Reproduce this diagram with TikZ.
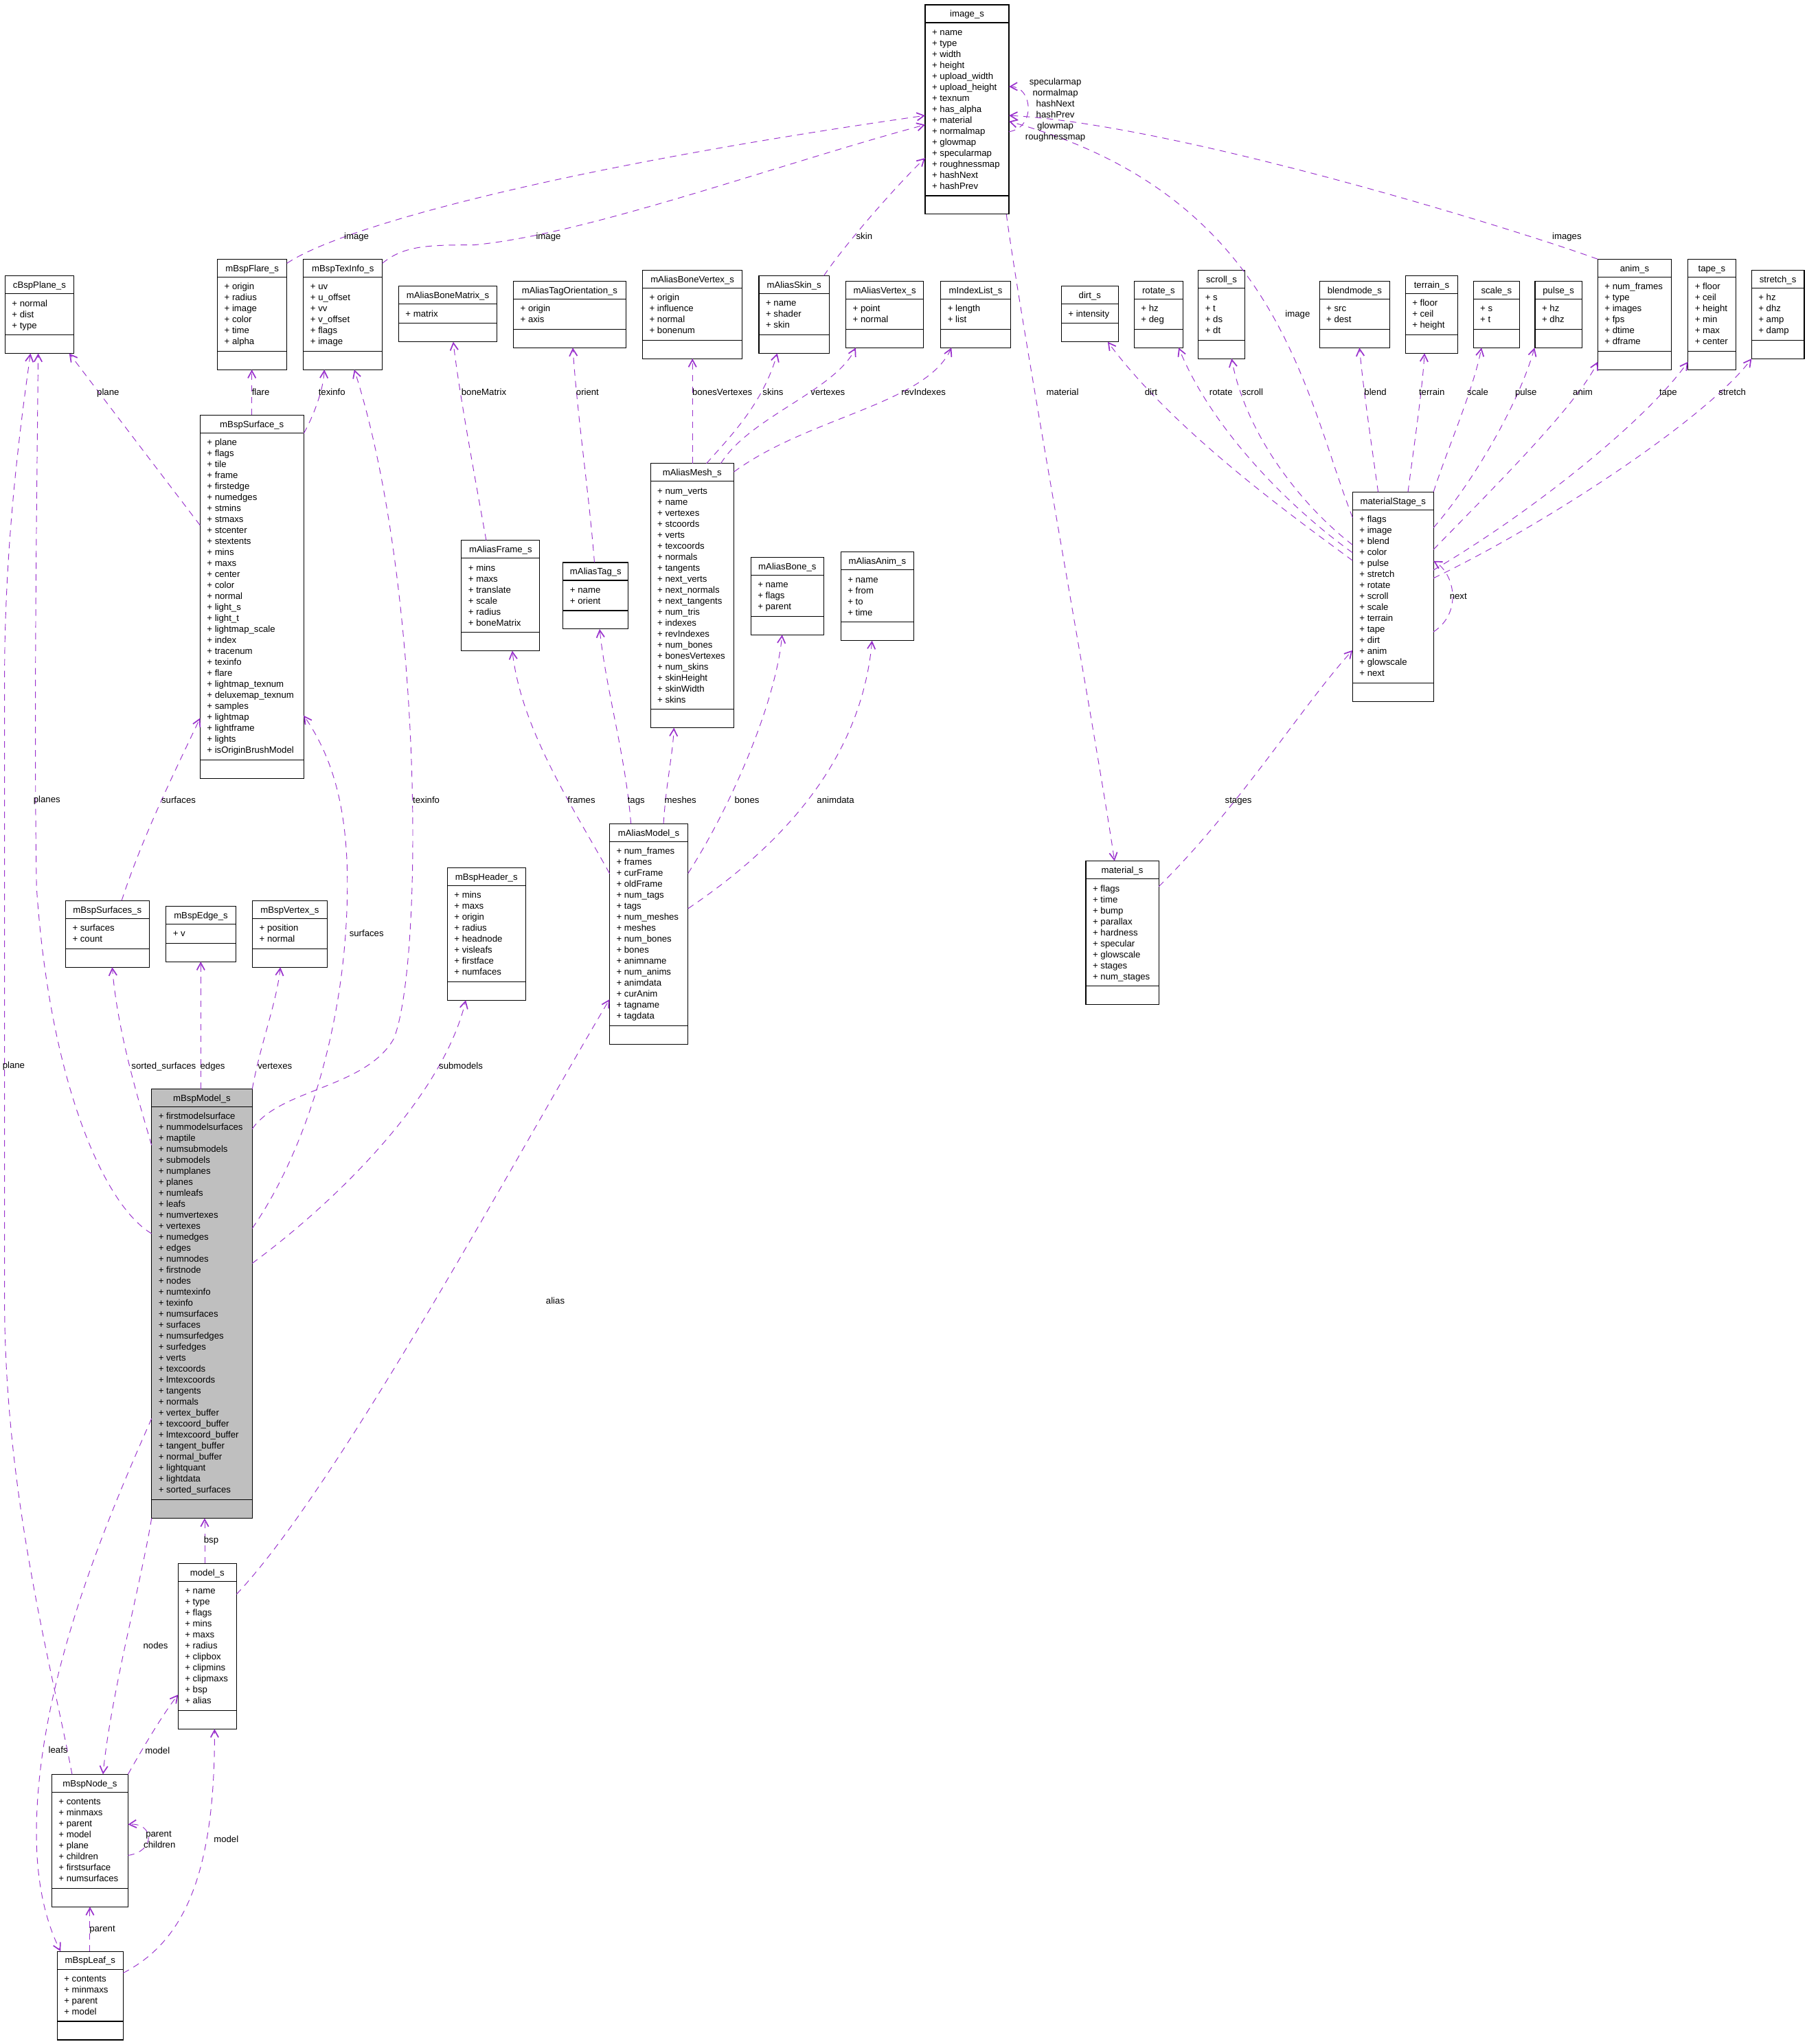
\documentclass[tikz,border=0pt]{standalone}
\usepackage{fontspec}
\setmainfont{Liberation Sans}
\usetikzlibrary{arrows.meta}
\definecolor{edgecol}{HTML}{9A32CD}
\definecolor{modelfill}{HTML}{BFBFBF}
\newcommand\cfont{\fontsize{6.95pt}{8.43pt}\selectfont}
\tikzset{
  classbox/.style={draw=black, line width=0.6pt, inner sep=0pt, outer sep=0pt, fill=white},
  ctext/.style={font=\cfont, inner sep=0pt, outer sep=0pt},
  lbl/.style={font=\cfont, inner sep=0pt, anchor=base, yshift=-2.4pt},
  assoc/.style={draw=edgecol, line width=0.5pt, dash pattern=on 5pt off 4pt,
    -{Straight Barb[length=5.5pt,width=6pt,line width=0.9pt]}}
}
% #1 extra style, #2 name, #3 left, #4 top, #5 width, #6 number of attributes, #7 title, #8 attributes
\newcommand\umlclass[8][]{%
  \node[classbox,#1,minimum width=#5pt,minimum height={(8.43*#6+34.2)*1pt},anchor=north west] (#2) at (#3,#4) {};
  \draw[line width=0.6pt] ([yshift=-13.7pt]#2.north west) -- ([yshift=-13.7pt]#2.north east);
  \draw[line width=0.6pt] ([yshift=14.2pt]#2.south west) -- ([yshift=14.2pt]#2.south east);
  \node[ctext,anchor=base] (#2-t) at ([yshift=-9.4pt]#2.north) {#7};
  \foreach \a [count=\i] in {#8} {%
    \pgfmathsetmacro\yy{-23.4-8.43*(\i-1)}%
    \node[ctext,anchor=base west] (#2-\i) at ([xshift=5.3pt,yshift=\yy pt]#2.north west) {+ \a};
  }%
}
\begin{document}
\begin{tikzpicture}[x=1pt,y=-1pt]
\useasboundingbox[fill=white] (0,0) rectangle (1386,1568);

% ---------- classes ----------
\umlclass{imgs}{709.7}{3.7}{64.3}{15}{image\_s}{name,type,width,height,upload\_width,upload\_height,texnum,has\_alpha,material,normalmap,glowmap,specularmap,roughnessmap,hashNext,hashPrev}
\umlclass{cbsp}{3.9}{211.6}{52.7}{3}{cBspPlane\_s}{normal,dist,type}
\umlclass{flare}{166.8}{198.8}{53.3}{6}{mBspFlare\_s}{origin,radius,image,color,time,alpha}
\umlclass{texi}{232.8}{198.8}{60.5}{6}{mBspTexInfo\_s}{uv,u\_offset,vv,v\_offset,flags,image}
\umlclass{abm}{305.8}{219.6}{75.5}{1}{mAliasBoneMatrix\_s}{matrix}
\umlclass{ato}{393.9}{215.7}{86.2}{2}{mAliasTagOrientation\_s}{origin,axis}
\umlclass{abv}{492.9}{207.2}{76.5}{4}{mAliasBoneVertex\_s}{origin,influence,normal,bonenum}
\umlclass{askin}{582.2}{211.5}{53.9}{3}{mAliasSkin\_s}{name,shader,skin}
\umlclass{avert}{648.9}{215.7}{59.6}{2}{mAliasVertex\_s}{point,normal}
\umlclass{ilist}{721.7}{215.7}{53.5}{2}{mIndexList\_s}{length,list}
\umlclass{dirt}{814.2}{219.6}{43.7}{1}{dirt\_s}{intensity}
\umlclass{rot}{870.1}{215.7}{37.4}{2}{rotate\_s}{hz,deg}
\umlclass{scroll}{919.3}{207.2}{35.5}{4}{scroll\_s}{s,t,ds,dt}
\umlclass{blend}{1012.2}{215.7}{54}{2}{blendmode\_s}{src,dest}
\umlclass{terr}{1078.1}{211.5}{40.3}{3}{terrain\_s}{floor,ceil,height}
\umlclass{scale}{1130.2}{215.7}{35.6}{2}{scale\_s}{s,t}
\umlclass{pulse}{1177.6}{215.7}{35.9}{2}{pulse\_s}{hz,dhz}
\umlclass{anim}{1225.7}{198.8}{56.6}{6}{anim\_s}{num\_frames,type,images,fps,dtime,dframe}
\umlclass{tape}{1294.9}{198.8}{36.6}{6}{tape\_s}{floor,ceil,height,min,max,center}
\umlclass{stretch}{1343.7}{207.2}{40.4}{4}{stretch\_s}{hz,dhz,amp,damp}
\umlclass{surf}{153.5}{318.4}{79.5}{29}{mBspSurface\_s}{plane,flags,tile,frame,firstedge,numedges,stmins,stmaxs,stcenter,stextents,mins,maxs,center,color,normal,light\_s,light\_t,lightmap\_scale,index,tracenum,texinfo,flare,lightmap\_texnum,deluxemap\_texnum,samples,lightmap,lightframe,lights,isOriginBrushModel}
\umlclass{mesh}{499}{355.5}{64}{20}{mAliasMesh\_s}{num\_verts,name,vertexes,stcoords,verts,texcoords,normals,tangents,next\_verts,next\_normals,next\_tangents,num\_tris,indexes,revIndexes,num\_bones,bonesVertexes,num\_skins,skinHeight,skinWidth,skins}
\umlclass{frame}{354}{414.5}{60}{6}{mAliasFrame\_s}{mins,maxs,translate,scale,radius,boneMatrix}
\umlclass{atag}{432}{431.5}{50}{2}{mAliasTag\_s}{name,orient}
\umlclass{bone}{576}{427.5}{56}{3}{mAliasBone\_s}{name,flags,parent}
\umlclass{aanim}{645}{423.5}{56}{4}{mAliasAnim\_s}{name,from,to,time}
\umlclass{mstage}{1037.6}{377.4}{62.1}{15}{materialStage\_s}{flags,image,blend,color,pulse,stretch,rotate,scroll,scale,terrain,tape,dirt,anim,glowscale,next}
\umlclass{amodel}{467.6}{631.9}{60.2}{16}{mAliasModel\_s}{num\_frames,frames,curFrame,oldFrame,num\_tags,tags,num\_meshes,meshes,num\_bones,bones,animname,num\_anims,animdata,curAnim,tagname,tagdata}
\umlclass{mat}{833}{660.5}{56}{9}{material\_s}{flags,time,bump,parallax,hardness,specular,glowscale,stages,num\_stages}
\umlclass{surfs}{50.3}{690.9}{64.1}{2}{mBspSurfaces\_s}{surfaces,count}
\umlclass{bedge}{127.4}{695.1}{53.4}{1}{mBspEdge\_s}{v}
\umlclass{bvert}{193.7}{690.9}{57.2}{2}{mBspVertex\_s}{position,normal}
\umlclass{bhead}{343.2}{665.6}{59.9}{8}{mBspHeader\_s}{mins,maxs,origin,radius,headnode,visleafs,firstface,numfaces}
\umlclass[fill=modelfill]{bmodel}{116.3}{835.4}{77.2}{35}{mBspModel\_s}{firstmodelsurface,nummodelsurfaces,maptile,numsubmodels,submodels,numplanes,planes,numleafs,leafs,numvertexes,vertexes,numedges,edges,numnodes,firstnode,nodes,numtexinfo,texinfo,numsurfaces,surfaces,numsurfedges,surfedges,verts,texcoords,lmtexcoords,tangents,normals,vertex\_buffer,texcoord\_buffer,lmtexcoord\_buffer,tangent\_buffer,normal\_buffer,lightquant,lightdata,sorted\_surfaces}
\umlclass{model}{136.6}{1199.4}{44.8}{11}{model\_s}{name,type,flags,mins,maxs,radius,clipbox,clipmins,clipmaxs,bsp,alias}
\umlclass{bnode}{39.7}{1361.1}{58.5}{8}{mBspNode\_s}{contents,minmaxs,parent,model,plane,children,firstsurface,numsurfaces}
\umlclass{bleaf}{43.9}{1496.9}{50.6}{4}{mBspLeaf\_s}{contents,minmaxs,parent,model}

% ---------- connectors ----------
\begin{scope}[assoc]
% to image_s
\draw (flare.east |- 0,202) .. controls (260,175) and (420,130) .. (imgs.west |- 0,88.6);
\draw (texi.east |- 0,202) .. controls (310,188) and (330,188) .. (363.6,187.9) .. controls (450,180) and (600,125) .. (imgs.west |- 0,95.7);
\draw (632,0 |- askin.north) .. controls (650,185) and (690,140) .. (imgs.west |- 0,121.2);
\draw (imgs.east |- 0,101) .. controls (795,98) and (792,66) .. (imgs.east |- 0,66.5);
\draw (anim.north west) .. controls (1160,175) and (900,95) .. (imgs.east |- 0,88.6);
\draw (mstage.west |- 0,397) .. controls (1000,300) and (980,150) .. (imgs.east |- 0,93.1);
\draw (772,0 |- imgs.south) .. controls (785,260) and (840,560) .. (855,0 |- mat.north);
% mBspSurface_s
\draw (surf.west |- 0,403) -- (53.1,0 |- cbsp.south);
\draw (193.2,0 |- surf.north) -- (193.2,0 |- flare.south);
\draw (surf.east |- 0,332.5) .. controls (240,320) and (248,300) .. (248.8,0 |- texi.south);
% alias parts
\draw (373,0 |- frame.north) .. controls (365,370) and (352,300) .. (347.7,0 |- abm.south);
\draw (456,0 |- atag.north) .. controls (452,380) and (443,320) .. (439.4,0 |- ato.south);
\draw (531.2,0 |- mesh.north) -- (531.2,0 |- abv.south);
\draw (542,0 |- mesh.north) .. controls (560,335) and (585,310) .. (596.3,0 |- askin.south);
\draw (553,0 |- mesh.north) .. controls (575,320) and (640,300) .. (656.5,0 |- avert.south);
\draw (mesh.east |- 0,362) .. controls (620,320) and (710,310) .. (729.9,0 |- ilist.south);
% materialStage_s
\draw (mstage.west |- 0,430) .. controls (990,395) and (900,330) .. (849.8,0 |- dirt.south);
\draw (mstage.west |- 0,424) .. controls (990,390) and (930,330) .. (904.2,0 |- rot.south);
\draw (mstage.west |- 0,418) .. controls (995,385) and (955,330) .. (944.8,0 |- scroll.south);
\draw (1057.2,0 |- mstage.north) .. controls (1052,340) and (1046,300) .. (1042.9,0 |- blend.south);
\draw (1080.1,0 |- mstage.north) .. controls (1085,340) and (1091,300) .. (1092.8,0 |- terr.south);
\draw (mstage.north east) .. controls (1110,345) and (1130,300) .. (1136.5,0 |- scale.south);
\draw (mstage.east |- 0,404.8) .. controls (1130,370) and (1165,310) .. (1177.2,0 |- pulse.south);
\draw (mstage.east |- 0,421.5) .. controls (1150,370) and (1210,310) .. (anim.west |- 0,277.5);
\draw (mstage.east |- 0,437.3) .. controls (1180,390) and (1265,320) .. (tape.west |- 0,277.5);
\draw (mstage.east |- 0,443.5) .. controls (1190,400) and (1310,320) .. (stretch.south west);
\draw (mstage.east |- 0,484.7) .. controls (1122,470) and (1116,440) .. (mstage.east |- 0,430.3);
\draw (mat.east |- 0,680) .. controls (950,620) and (1000,540) .. (mstage.west |- 0,498.8);
% mAliasModel_s
\draw (amodel.west |- 0,670) .. controls (440,620) and (400,560) .. (393,0 |- frame.south);
\draw (484,0 |- amodel.north) .. controls (480,580) and (465,530) .. (460,0 |- atag.south);
\draw (509,0 |- amodel.north) .. controls (511,600) and (516,580) .. (517,0 |- mesh.south);
\draw (amodel.east |- 0,670) .. controls (560,620) and (595,540) .. (600,0 |- bone.south);
\draw (amodel.east |- 0,697) .. controls (590,655) and (660,590) .. (669,0 |- aanim.south);
% mBspSurfaces_s
\draw (93.3,0 |- surfs.north) .. controls (110,640) and (135,590) .. (surf.west |- 0,550.8);
% mBspModel_s
\draw (bmodel.west |- 0,946.3) .. controls (80,925) and (38,830) .. (28,680) .. controls (26,550) and (28,400) .. (29.3,0 |- cbsp.south);
\draw (bmodel.east |- 0,866) .. controls (215,835) and (280,835) .. (302,797) .. controls (325,740) and (325,450) .. (271.8,0 |- texi.south);
\draw (bmodel.east |- 0,942.3) .. controls (230,890) and (262,800) .. (266,700) .. controls (269,630) and (258,585) .. (surf.east |- 0,548.9);
\draw (bmodel.east |- 0,969.1) .. controls (260,920) and (340,840) .. (357.3,0 |- bhead.south);
\draw (bmodel.west |- 0,878.5) .. controls (105,840) and (90,790) .. (86.1,0 |- surfs.south);
\draw (154,0 |- bmodel.north) -- (154,0 |- bedge.south);
\draw (bmodel.north east) .. controls (200,800) and (212,770) .. (215.1,0 |- bvert.south);
\draw (bmodel.south west) .. controls (108,1215) and (85,1300) .. (79,0 |- bnode.north);
\draw (bmodel.west |- 0,1088.2) .. controls (80,1170) and (30,1290) .. (28,1400) .. controls (27,1450) and (38,1480) .. (46.5,0 |- bleaf.north);
% model_s
\draw (157,0 |- model.north) -- (157,0 |- bmodel.south);
\draw (model.east |- 0,1223) .. controls (260,1140) and (400,880) .. (amodel.west |- 0,766.6);
% mBspNode_s / mBspLeaf_s
\draw (bnode.north east) .. controls (110,1340) and (125,1315) .. (model.west |- 0,1300);
\draw (bleaf.east |- 0,1513.5) .. controls (140,1490) and (165,1440) .. (164.6,0 |- model.south);
\draw (bnode.east |- 0,1423.3) .. controls (120,1420) and (118,1398) .. (bnode.east |- 0,1399.6);
\draw (69,0 |- bleaf.north) -- (69,0 |- bnode.south);
\draw (55.3,0 |- bnode.north) .. controls (40,1280) and (4,1150) .. (3.5,1000) -- (3.5,520) .. controls (3.5,420) and (15,330) .. (23.4,0 |- cbsp.south);
\end{scope}

% ---------- connector labels ----------
\node[lbl] (L1) at (273.5,181.2) {image};
\node[lbl] (L2) at (420.7,181) {image};
\node[lbl] (L3) at (663,181) {skin};
\node[lbl] (L4) at (1202,181) {images};
\node[lbl] (L5a) at (809.6,62.7) {specularmap};
\node[lbl] (L5b) at (809.6,71.1) {normalmap};
\node[lbl] (L5c) at (809.6,79.4) {hashNext};
\node[lbl] (L5d) at (809.6,87.8) {hashPrev};
\node[lbl] (L5e) at (809.6,96.2) {glowmap};
\node[lbl] (L5f) at (809.6,104.8) {roughnessmap};
\node[lbl] (L6) at (995.5,241) {image};
\node[lbl] (L7) at (815.1,300.8) {material};
\node[lbl] (L8) at (82.9,300.7) {plane};
\node[lbl] (L9) at (200,300.7) {flare};
\node[lbl] (L10) at (254.6,300.7) {texinfo};
\node[lbl] (L11) at (371.2,300.8) {boneMatrix};
\node[lbl] (L12) at (450.7,300.8) {orient};
\node[lbl] (L13) at (554.1,300.8) {bonesVertexes};
\node[lbl] (L14) at (593,300.8) {skins};
\node[lbl] (L15) at (635.1,300.8) {vertexes};
\node[lbl] (L16) at (708.5,300.8) {revIndexes};
\node[lbl] (L17) at (883,300.8) {dirt};
\node[lbl] (L18) at (936.7,300.8) {rotate};
\node[lbl] (L19) at (960.8,300.8) {scroll};
\node[lbl] (L20) at (1055.1,300.8) {blend};
\node[lbl] (L21) at (1098.4,300.8) {terrain};
\node[lbl] (L22) at (1133.6,300.8) {scale};
\node[lbl] (L23) at (1170.6,300.8) {pulse};
\node[lbl] (L24) at (1214.2,300.8) {anim};
\node[lbl] (L25) at (1279.7,300.8) {tape};
\node[lbl] (L26) at (1328.9,300.8) {stretch};
\node[lbl] (L27) at (1118.7,457.1) {next};
\node[lbl] (L28) at (36,613.4) {planes};
\node[lbl] (L29) at (137,614) {surfaces};
\node[lbl] (L30) at (327,614) {texinfo};
\node[lbl] (L31) at (446,614) {frames};
\node[lbl] (L32) at (488,614) {tags};
\node[lbl] (L33) at (522,614) {meshes};
\node[lbl] (L34) at (573,614) {bones};
\node[lbl] (L35) at (641,614) {animdata};
\node[lbl] (L36) at (950,614) {stages};
\node[lbl] (L37) at (281.2,716) {surfaces};
\node[lbl] (L38) at (125.6,817.7) {sorted\_surfaces};
\node[lbl] (L39) at (163.1,817.7) {edges};
\node[lbl] (L40) at (210.9,817.7) {vertexes};
\node[lbl] (L41) at (353.6,817.7) {submodels};
\node[lbl] (L42) at (10.5,817.4) {plane};
\node[lbl] (L43) at (426,998) {alias};
\node[lbl] (L44) at (162,1181) {bsp};
\node[lbl] (L45) at (119.4,1262.3) {nodes};
\node[lbl] (L46) at (44.6,1342.5) {leafs};
\node[lbl] (L47) at (120.8,1342.8) {model};
\node[lbl] (L48a) at (121.7,1406.8) {parent};
\node[lbl] (L48b) at (122.4,1415.2) {children};
\node[lbl] (L49) at (173.5,1411) {model};
\node[lbl] (L50) at (78.5,1479.4) {parent};
\end{tikzpicture}
\end{document}
